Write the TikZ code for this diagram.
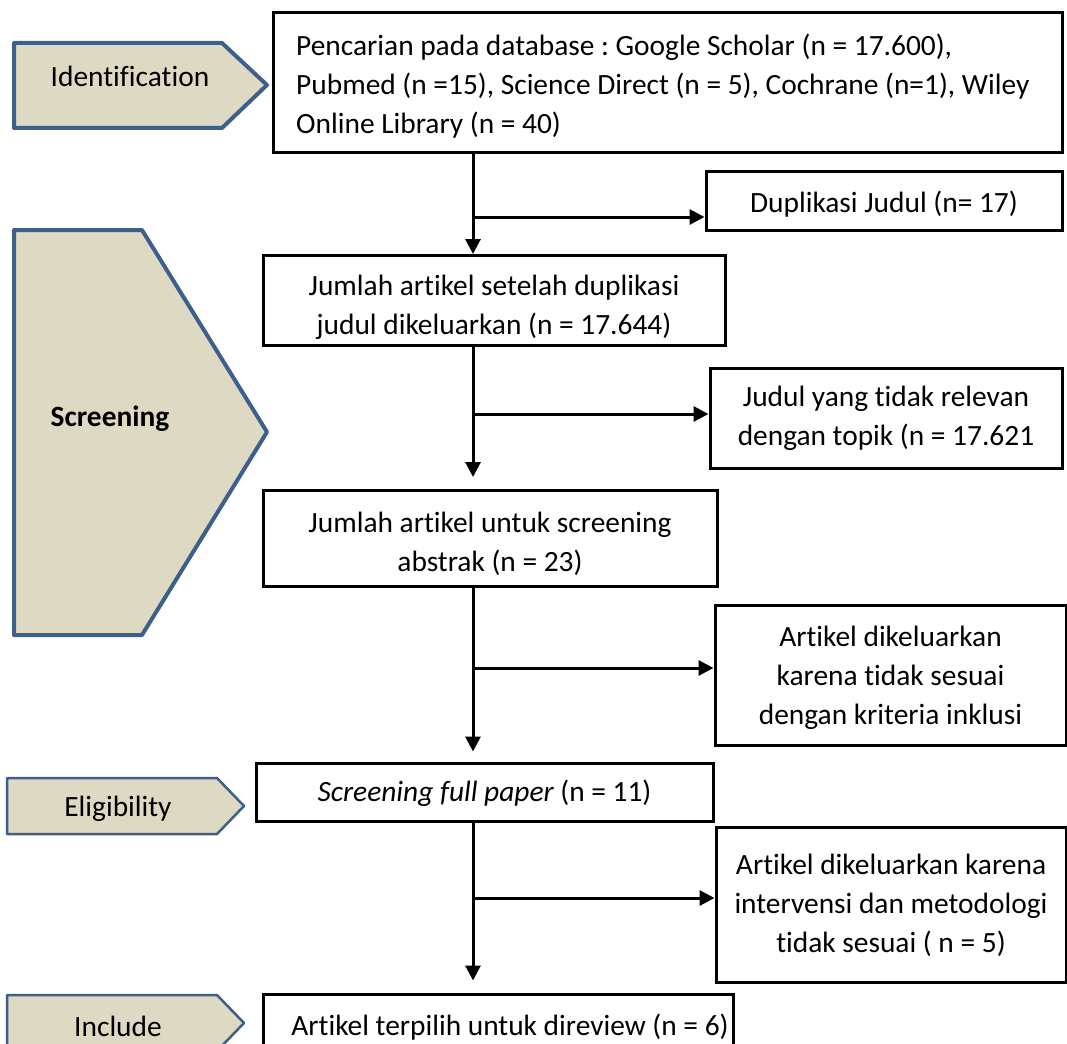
\documentclass[tikz,border=0pt]{standalone}
\usepackage{fontspec}
\setmainfont{Carlito}[Ligatures=NoCommon]
\usetikzlibrary{arrows.meta}
\definecolor{penfill}{HTML}{DDD9C3}
\definecolor{penline}{HTML}{3D5F8C}
\frenchspacing
\begin{document}
\begin{tikzpicture}[x=1pt,y=-1pt,
  box/.style={draw, line width=3pt, inner sep=0pt},
  txt/.style={font=\fontsize{29.4}{39}\selectfont, align=center, inner sep=0pt},
  arr/.style={line width=3pt, -{Triangle[length=15pt,width=15pt]}},
  pent/.style={fill=penfill, draw=penline, line width=4pt, line join=round},
  pentthin/.style={pent, line width=2.5pt}]
\path[use as bounding box] (0,0) rectangle (1067,1043);
\clip (0,0) rectangle (1067,1043);

% side labels
\draw[pent] (14,43) -- (222,43) -- (267,85) -- (222,128) -- (14,128) -- cycle;
\node[txt] (lid) at (130,76) {Identification};
\draw[pent] (14,230) -- (142,230) -- (267,432) -- (142,635) -- (14,635) -- cycle;
\node[txt] (lsc) at (110,419) {\bfseries Screening};
\draw[pentthin] (7,778) -- (217,778) -- (244,806) -- (217,834) -- (7,834) -- cycle;
\node[txt] (lel) at (118,809) {Eligibility};
\draw[pentthin] (7,995) -- (217,995) -- (244,1023) -- (217,1051) -- (7,1051) -- cycle;
\node[txt] (lin) at (118,1026) {Include};

% main boxes
\node[box, minimum width=789pt, minimum height=140pt] (b1) at (667.5,83) {};
\node[txt, align=left, anchor=west] (t1) at (296,86) {Pencarian pada database : Google Scholar (n = 17.600),\\Pubmed (n =15), Science Direct (n = 5), Cochrane (n=1), Wiley\\Online Library (n = 40)};
\begin{scope}
  \clip (263,254) rectangle (725,338);
  \node[txt] (t2) at (494,307) {Jumlah artikel setelah duplikasi\\judul dikeluarkan (n = 17.644)};
\end{scope}
\node[box, minimum width=462pt, minimum height=90pt] (b2) at (494,300.5) {};
\node[box, minimum width=454pt, minimum height=96pt] (b3) at (490,538.5) {};
\node[txt] (t3) at (490,544) {Jumlah artikel untuk screening\\abstrak (n = 23)};
\node[box, minimum width=457pt, minimum height=58pt] (b4) at (484.5,792) {};
\node[txt] (t4) at (484.5,793) {\itshape Screening full paper\upshape{} (n = 11)};
\node[box, minimum width=470pt, minimum height=66pt] (b5) at (498,1027) {};
\node[txt] (t5) at (510,1027) {Artikel terpilih untuk direview (n = 6)};

% side boxes
\node[box, minimum width=356pt, minimum height=58pt] (d1) at (884,201) {};
\node[txt] (s1) at (884,204) {Duplikasi Judul (n= 17)};
\node[box, minimum width=352pt, minimum height=100pt] (d2) at (886,418) {};
\node[txt] (s2) at (886,418) {Judul yang tidak relevan\\dengan topik (n = 17.621};
\node[box, minimum width=351pt, minimum height=140pt] (d3) at (890.5,675) {};
\node[txt] (s3) at (890.5,678) {Artikel dikeluarkan\\karena tidak sesuai\\dengan kriteria inklusi};
\node[box, minimum width=350pt, minimum height=155pt] (d4) at (891,904.5) {};
\node[txt] (s4) at (891,905) {Artikel dikeluarkan karena\\intervensi dan metodologi\\tidak sesuai ( n = 5)};

% connectors
\coordinate (k1) at (473,217);
\coordinate (k2) at (473,414);
\coordinate (k3) at (473,668);
\coordinate (k4) at (473,898);
\draw[arr] (k1 |- b1.south) -- (k1 |- b2.north);
\draw[arr] (k1) -- (k1 -| d1.west);
\draw[arr, shorten >=12pt] (k2 |- b2.south) -- (k2 |- b3.north);
\draw[arr] (k2) -- (k2 -| d2.west);
\draw[arr, shorten >=10pt] (k3 |- b3.south) -- (k3 |- b4.north);
\draw[arr] (k3) -- (k3 -| d3.west);
\draw[arr, shorten >=12pt] (k4 |- b4.south) -- (k4 |- b5.north);
\draw[arr] (k4) -- (k4 -| d4.west);
\end{tikzpicture}
\end{document}
